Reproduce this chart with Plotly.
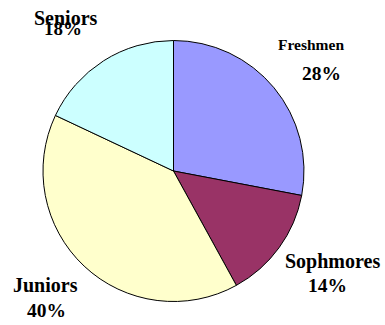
import plotly.graph_objects as go

# Class distribution
classes = ["Freshmen", "Sophmores", "Juniors", "Seniors"]
shares = [28, 14, 40, 18]
colors = ["#9999FF", "#993366", "#FFFFCC", "#CCFFFF"]

W, H = 385, 325
# pie placement in pixels: centre and radius
cx, cy, r = 173.5, 171.0, 130.5

fig = go.Figure(go.Pie(
    labels=classes,
    values=shares,
    sort=False,
    direction="clockwise",
    rotation=0,
    marker=dict(colors=colors, line=dict(color="#000000", width=1)),
    textinfo="none",
    hoverinfo="label+percent",
    domain=dict(x=[(cx - r) / W, (cx + r) / W],
                y=[1 - (cy + r) / H, 1 - (cy - r) / H]),
    showlegend=False,
))

# label placement (pixel centres of name and percentage, font sizes)
label_pos = {
    "Freshmen": ((311, 44, 15.5), (321, 73, 19.5)),
    "Sophmores": ((332, 261, 20), (327, 285, 19.5)),
    "Juniors": ((45, 285, 20), (46, 310, 19.5)),
    "Seniors": ((66, 18, 20), (63, 29, 19)),
}

font_family = "Times New Roman, Liberation Serif, serif"
for name, val in zip(classes, shares):
    (nx, ny, ns), (px, py, ps) = label_pos[name]
    fig.add_annotation(x=nx / W, y=1 - ny / H, xref="paper", yref="paper",
                       text=f"<b>{name}</b>", showarrow=False,
                       xanchor="center", yanchor="middle",
                       font=dict(family=font_family, size=ns, color="#000000"))
    fig.add_annotation(x=px / W, y=1 - py / H, xref="paper", yref="paper",
                       text=f"<b>{val}%</b>", showarrow=False,
                       xanchor="center", yanchor="middle",
                       font=dict(family=font_family, size=ps, color="#000000"))

fig.update_layout(
    width=W, height=H,
    margin=dict(l=0, r=0, t=0, b=0),
    paper_bgcolor="#FFFFFF",
    plot_bgcolor="#FFFFFF",
)

fig.write_html("out.html")
